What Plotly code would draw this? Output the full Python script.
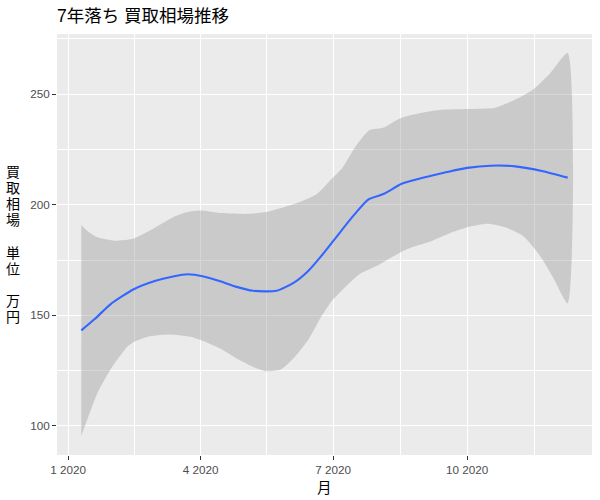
import plotly.graph_objects as go
import pandas as pd

# ---- data ----
line_dates = ["2020-01-10", "2020-01-19", "2020-01-30", "2020-02-15", "2020-03-01", "2020-03-13",
              "2020-03-23", "2020-04-03", "2020-04-15", "2020-04-25", "2020-05-07", "2020-05-23",
              "2020-06-04", "2020-06-14", "2020-06-23", "2020-07-03", "2020-07-15", "2020-07-25",
              "2020-08-05", "2020-08-17", "2020-08-29", "2020-09-07", "2020-09-17", "2020-10-01",
              "2020-10-17", "2020-11-03", "2020-11-22", "2020-12-09"]
line_values = [143.2, 148.2, 155.0, 161.8, 165.6, 167.6, 168.6, 167.6, 165.3, 163.0, 161.1, 161.1,
               164.8, 170.2, 177.0, 185.3, 195.2, 202.4, 205.0, 209.5, 211.8, 213.3, 214.8, 216.7,
               217.7, 217.4, 215.2, 212.3]

upper_dates = ["2020-01-10", "2020-01-14", "2020-01-21", "2020-02-02", "2020-02-15", "2020-02-28",
               "2020-03-13", "2020-03-23", "2020-04-01", "2020-04-13", "2020-05-02", "2020-05-16",
               "2020-05-28", "2020-06-09", "2020-06-20", "2020-06-30", "2020-07-07", "2020-07-17",
               "2020-07-26", "2020-08-05", "2020-08-16", "2020-08-29", "2020-09-12", "2020-10-01",
               "2020-10-20", "2020-11-05", "2020-11-15", "2020-11-27", "2020-12-09"]
upper_values = [190.9, 188.3, 185.3, 183.8, 184.8, 189.1, 194.4, 196.7, 197.4, 196.4, 195.9, 196.7,
                198.9, 201.5, 205.0, 211.8, 216.4, 227.0, 233.8, 235.0, 239.1, 241.4, 242.9, 243.3,
                243.9, 248.2, 252.0, 259.5, 268.6]

lower_dates = ["2020-01-10", "2020-01-14", "2020-01-21", "2020-01-30", "2020-02-11", "2020-02-16",
               "2020-02-26", "2020-03-11", "2020-03-25", "2020-04-03", "2020-04-15", "2020-04-27",
               "2020-05-07", "2020-05-16", "2020-05-26", "2020-06-04", "2020-06-14", "2020-06-23",
               "2020-06-30", "2020-07-10", "2020-07-19", "2020-07-31", "2020-08-17", "2020-08-24",
               "2020-09-07", "2020-09-19", "2020-10-01", "2020-10-15", "2020-10-27", "2020-11-08",
               "2020-11-20", "2020-11-29", "2020-12-09"]
lower_values = [95.5, 102.7, 114.8, 125.5, 136.1, 138.3, 140.6, 141.4, 140.3, 138.3, 134.8, 130.0,
                126.7, 124.7, 125.5, 130.8, 139.1, 149.7, 156.5, 163.3, 168.6, 172.4, 178.8, 180.8,
                183.8, 187.1, 189.8, 191.4, 189.8, 186.1, 177.0, 167.1, 155.5]

x_tick_dates = ["2020-01-01", "2020-04-01", "2020-07-01", "2020-10-01"]
x_tick_labels = ["1 2020", "4 2020", "7 2020", "10 2020"]
x_minor_dates = ["2020-02-15 12:00", "2020-05-16 12:00", "2020-08-16", "2020-11-16"]
y_tick_values = [100, 150, 200, 250]
y_minor_values = [125, 175, 225, 275]

title_text = "7年落ち 買取相場推移"
x_title = "月"
y_title_chars = ["買", "取", "相", "場", "", "単", "位", "", "万", "円"]

# ---- figure ----
FONT = "Liberation Sans, Arial, Noto Sans CJK JP, sans-serif"
W, H = 600, 500
ML, MR, MT, MB = 57, 8, 34, 45
PW, PH = W - ML - MR, H - MT - MB

fig = go.Figure()

ribbon_x = upper_dates + lower_dates[::-1]
ribbon_y = upper_values + lower_values[::-1]
fig.add_trace(go.Scatter(x=ribbon_x, y=ribbon_y, mode="lines", fill="toself",
                         fillcolor="rgba(153,153,153,0.4)", line=dict(width=0, shape="spline", smoothing=0.6),
                         hoverinfo="skip", showlegend=False))
fig.add_trace(go.Scatter(x=line_dates, y=line_values, mode="lines",
                         line=dict(color="#3366FF", width=2.1, shape="spline", smoothing=0.6),
                         showlegend=False))

# axis ranges with ggplot-like 5% expansion
all_d = pd.to_datetime(upper_dates + lower_dates + line_dates)
dmin, dmax = all_d.min(), all_d.max()
dpad = (dmax - dmin) * 0.05
ymin = min(lower_values)
ymax = max(upper_values)
ypad = (ymax - ymin) * 0.05

fig.update_layout(
    width=W, height=H,
    margin=dict(l=ML, r=MR, t=MT, b=MB),
    paper_bgcolor="white", plot_bgcolor="#EBEBEB",
    font=dict(family=FONT, color="#4D4D4D", size=12),
    title=dict(text=title_text, x=ML / W, xanchor="left", xref="container",
               y=1 - 16 / H, yanchor="middle", yref="container",
               font=dict(family=FONT, size=17.5, color="black")),
    xaxis=dict(type="date", range=[dmin - dpad, dmax + dpad], automargin=False,
               tickmode="array", tickvals=x_tick_dates, ticktext=x_tick_labels,
               showgrid=True, gridcolor="white", gridwidth=1.1,
               ticks="outside", ticklen=4, tickwidth=1.1, tickcolor="#333333",
               tickfont=dict(size=11.7, color="#4D4D4D"),
               minor=dict(tickmode="array", tickvals=x_minor_dates, showgrid=True,
                          gridcolor="white", gridwidth=0.55, ticks=""),
               zeroline=False, showline=False, fixedrange=True),
    yaxis=dict(range=[ymin - ypad, ymax + ypad], automargin=False,
               tickmode="array", tickvals=y_tick_values,
               showgrid=True, gridcolor="white", gridwidth=1.1,
               ticks="outside", ticklen=4, tickwidth=1.1, tickcolor="#333333",
               tickfont=dict(size=11.7, color="#4D4D4D"),
               minor=dict(tickmode="array", tickvals=y_minor_values, showgrid=True,
                          gridcolor="white", gridwidth=0.55, ticks=""),
               zeroline=False, showline=False, fixedrange=True),
)

# vertical stacked y-axis title (one character per line, as in the reference)
line_gap = 16.1
y_center = MT + PH / 2
n = len(y_title_chars)
for i, ch in enumerate(y_title_chars):
    if not ch:
        continue
    ypix = y_center + (i - (n - 1) / 2) * line_gap
    fig.add_annotation(text=ch, xref="paper", yref="paper",
                       x=(13 - ML) / PW, y=(H - MB - ypix) / PH,
                       xanchor="center", yanchor="middle", showarrow=False,
                       font=dict(family=FONT, size=14, color="black"))

fig.add_annotation(text=x_title, xref="paper", yref="paper", x=0.5, y=(H - MB - 488) / PH,
                   xanchor="center", yanchor="middle", showarrow=False,
                   font=dict(family=FONT, size=14.5, color="black"))

fig.write_html("out.html", config={"displayModeBar": False},
               post_script="document.body.style.margin='0';")
